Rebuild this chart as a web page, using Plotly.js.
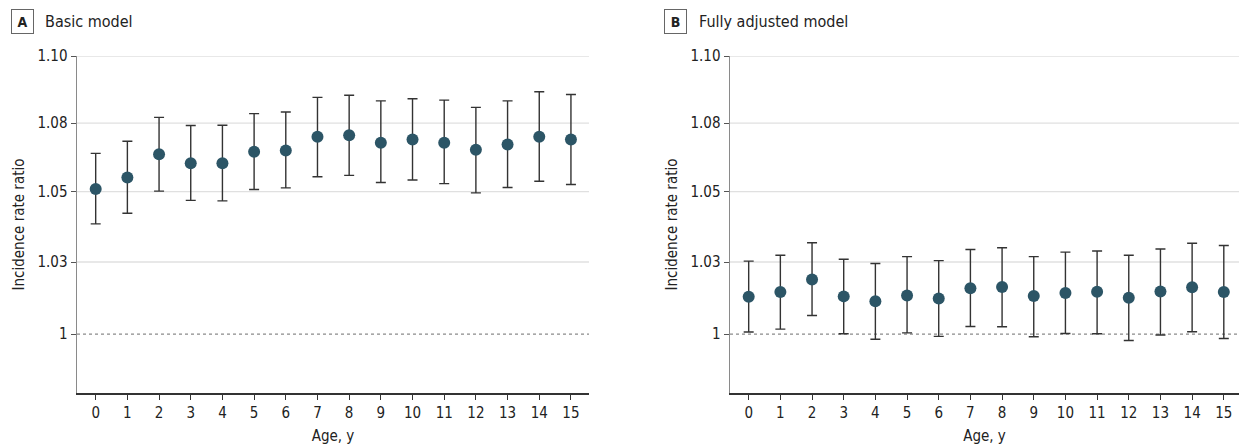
<!DOCTYPE html>
<html>
<head>
<meta charset="utf-8">
<script src="https://cdn.plot.ly/plotly-3.0.1.min.js"></script>
<style>html,body{margin:0;padding:0;background:#fff;}#chart{width:1239px;height:446px;}</style>
</head>
<body>
<div id="chart"></div>
<script>
const ages = [0,1,2,3,4,5,6,7,8,9,10,11,12,13,14,15];
const basicIRR   = [1.0510,1.0551,1.0636,1.0603,1.0603,1.0645,1.0649,1.0700,1.0705,1.0678,1.0690,1.0678,1.0652,1.0671,1.0700,1.0690];
const basicUpper = [1.0639,1.0683,1.0771,1.0741,1.0742,1.0785,1.0791,1.0845,1.0853,1.0832,1.0840,1.0835,1.0808,1.0832,1.0866,1.0856];
const basicLower = [1.0385,1.0423,1.0502,1.0469,1.0467,1.0508,1.0514,1.0554,1.0559,1.0533,1.0542,1.0529,1.0496,1.0515,1.0538,1.0526];
const adjIRR   = [1.0129,1.0145,1.0189,1.0130,1.0113,1.0133,1.0123,1.0158,1.0163,1.0131,1.0142,1.0146,1.0125,1.0147,1.0162,1.0145];
const adjUpper = [1.0253,1.0274,1.0318,1.0260,1.0245,1.0269,1.0255,1.0294,1.0300,1.0269,1.0285,1.0289,1.0274,1.0296,1.0316,1.0308];
const adjLower = [1.0007,1.0017,1.0064,1.0001,0.9982,1.0004,0.9992,1.0026,1.0025,0.9991,1.0002,1.0001,0.9978,0.9997,1.0008,0.9985];
const yTickVals = [1, 1.025, 1.05, 1.075, 1.1];
const yTickText = ["1", "1.03", "1.05", "1.08", "1.10"];
const refValue = 1;

const FONT = "Liberation Sans Narrow, DejaVu Sans Condensed, Arial Narrow, sans-serif";
const TXT = "#222";
const DOT = "#2c5566";

function trace(y, up, lo, xa, ya) {
  return {
    type: "scatter", mode: "markers", x: ages, y: y, xaxis: xa, yaxis: ya,
    marker: {color: DOT, size: 12},
    error_y: {type: "data", symmetric: false,
      array: up.map((u, i) => u - y[i]),
      arrayminus: lo.map((l, i) => y[i] - l),
      color: "#333", thickness: 1.4, width: 5},
    showlegend: false, hoverinfo: "x+y"
  };
}

const yBase = {
  type: "log",
  range: [Math.log10(0.98), Math.log10(1.1)],
  tickvals: yTickVals, ticktext: yTickText,
  showgrid: false,
  showline: true, linecolor: "#8a8a8a", linewidth: 1.5,
  ticks: "outside", ticklen: 5, tickcolor: "#555", tickwidth: 1,
  tickfont: {family: FONT, size: 15, color: TXT},
  title: {text: "Incidence rate ratio", font: {family: FONT, size: 15, color: TXT}, standoff: 9},
  zeroline: false, fixedrange: true
};
const xBase = {
  tickvals: ages, ticktext: ages.map(String),
  showgrid: false, zeroline: false,
  showline: true, linecolor: "#333", linewidth: 1.5,
  ticks: "outside", ticklen: 5, tickcolor: "#333", tickwidth: 1,
  tickfont: {family: FONT, size: 15, color: TXT},
  title: {text: "Age, y", font: {family: FONT, size: 15, color: TXT}, standoff: 10},
  fixedrange: true
};

const shapes = [];
[["x", "y"], ["x2", "y2"]].forEach(([xa, ya]) => {
  yTickVals.filter(v => v !== refValue).forEach(v => {
    shapes.push({type: "line", xref: xa + " domain", yref: ya, x0: 0, x1: 1, y0: v, y1: v,
      layer: "below", line: {color: "#e0e0e0", width: 1.3}});
  });
  shapes.push({type: "line", xref: xa + " domain", yref: ya, x0: 0, x1: 1, y0: refValue, y1: refValue,
    layer: "below", line: {color: "#8a8a8a", width: 1.2, dash: "dot"}});
});

const layout = {
  width: 1239, height: 446,
  margin: {l: 0, r: 0, t: 56, b: 53},
  paper_bgcolor: "#fff", plot_bgcolor: "#fff",
  font: {family: FONT, color: TXT},
  xaxis: Object.assign({}, xBase, {domain: [77/1239, 589/1239], range: [-0.59, 15.57], anchor: "y"}),
  yaxis: Object.assign({}, yBase, {anchor: "x"}),
  xaxis2: Object.assign({}, xBase, {domain: [730/1239, 1], range: [-0.59, 15.48], anchor: "y2"}),
  yaxis2: Object.assign({}, yBase, {anchor: "x2"}),
  shapes: shapes,
  annotations: [
    {text: "<b>A</b>", xref: "paper", yref: "paper", x: 22.5/1239, y: 1 - 21.5/446 , xanchor: "center", yanchor: "middle",
     showarrow: false, font: {family: FONT, size: 14, color: TXT}, bordercolor: "#666", borderwidth: 1, borderpad: 3, bgcolor: "#fff",
     width: 15, height: 17},
    {text: "Basic model", xref: "paper", yref: "paper", x: 43/1239, y: 1 - 21/446, xanchor: "left", yanchor: "middle",
     showarrow: false, font: {family: FONT, size: 16, color: TXT}},
    {text: "<b>B</b>", xref: "paper", yref: "paper", x: 675/1239, y: 1 - 21.5/446, xanchor: "center", yanchor: "middle",
     showarrow: false, font: {family: FONT, size: 14, color: TXT}, bordercolor: "#666", borderwidth: 1, borderpad: 3, bgcolor: "#fff",
     width: 15, height: 17},
    {text: "Fully adjusted model", xref: "paper", yref: "paper", x: 697/1239, y: 1 - 21/446, xanchor: "left", yanchor: "middle",
     showarrow: false, font: {family: FONT, size: 16, color: TXT}}
  ]
};
const plotH = 446 - 56 - 53;
layout.annotations.forEach(a => {
  const pxY = (1 - a.y) * 446;
  a.y = (446 - 53 - pxY) / plotH;
});

Plotly.newPlot("chart", [
  trace(basicIRR, basicUpper, basicLower, "x", "y"),
  trace(adjIRR, adjUpper, adjLower, "x2", "y2")
], layout, {displayModeBar: false, staticPlot: true});
</script>
</body>
</html>
